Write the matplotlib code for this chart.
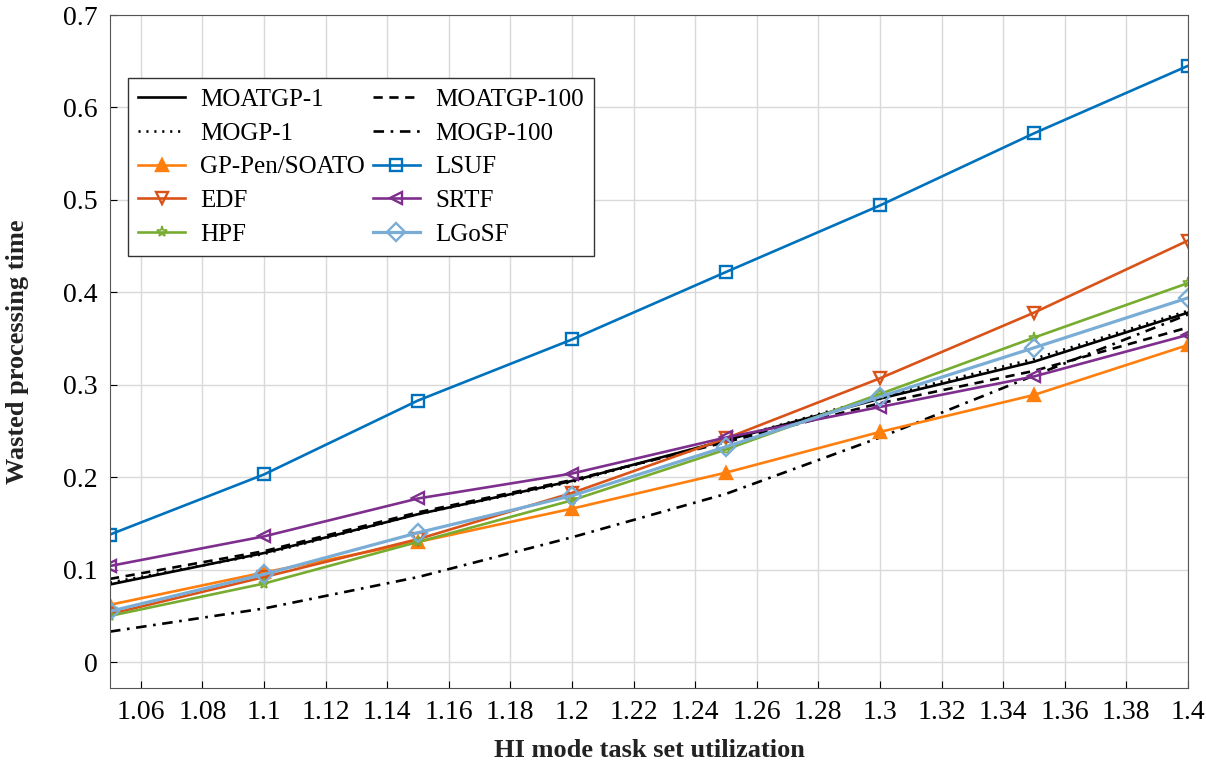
import matplotlib
matplotlib.use("Agg")
import matplotlib.pyplot as plt
import numpy as np

plt.rcParams['font.family'] = ['Liberation Serif', 'DejaVu Serif']
plt.rcParams['mathtext.fontset'] = 'stix'

util = [1.05, 1.10, 1.15, 1.20, 1.25, 1.30, 1.35, 1.40]

moatgp1 = [0.084, 0.118, 0.160, 0.196, 0.240, 0.285, 0.325, 0.378]
moatgp100 = [0.090, 0.120, 0.162, 0.197, 0.238, 0.280, 0.315, 0.362]
mogp1 = [0.086, 0.117, 0.160, 0.195, 0.240, 0.287, 0.328, 0.380]
mogp100 = [0.033, 0.058, 0.092, 0.135, 0.182, 0.243, 0.310, 0.376]
gppen = [0.062, 0.097, 0.130, 0.166, 0.205, 0.249, 0.289, 0.343]
lsuf = [0.138, 0.203, 0.283, 0.349, 0.422, 0.494, 0.572, 0.645]
edf = [0.052, 0.092, 0.133, 0.183, 0.242, 0.307, 0.378, 0.456]
srtf = [0.104, 0.136, 0.177, 0.204, 0.243, 0.276, 0.309, 0.354]
hpf = [0.050, 0.085, 0.130, 0.175, 0.230, 0.290, 0.351, 0.410]
lgosf = [0.055, 0.095, 0.140, 0.180, 0.233, 0.287, 0.340, 0.394]

xticks = [1.06, 1.08, 1.1, 1.12, 1.14, 1.16, 1.18, 1.2, 1.22, 1.24,
          1.26, 1.28, 1.3, 1.32, 1.34, 1.36, 1.38, 1.4]
xticklabels = ['1.06', '1.08', '1.1', '1.12', '1.14', '1.16', '1.18', '1.2', '1.22',
               '1.24', '1.26', '1.28', '1.3', '1.32', '1.34', '1.36', '1.38', '1.4']
yticks = [0, 0.1, 0.2, 0.3, 0.4, 0.5, 0.6, 0.7]
yticklabels = ['0', '0.1', '0.2', '0.3', '0.4', '0.5', '0.6', '0.7']

fig = plt.figure(figsize=(12.06, 7.63), dpi=100)
ax = fig.add_axes([0.0912, 0.0983, 0.8938, 0.8820])

lw = 1.9
ms = 9
mew = 1.7

h = {}
h['MOATGP-1'], = ax.plot(util, moatgp1, color='black', lw=lw, ls='-', label='MOATGP-1')
h['MOATGP-100'], = ax.plot(util, moatgp100, color='black', lw=lw, ls=(0, (3.5, 2.5)),
                           label='MOATGP-100')
h['MOGP-1'], = ax.plot(util, mogp1, color='black', lw=lw, ls=(0, (0.8, 2.2)), label='MOGP-1')
h['MOGP-100'], = ax.plot(util, mogp100, color='black', lw=lw, ls=(0, (4, 2.5, 1, 2.5)),
                         label='MOGP-100')
h['GP-Pen/SOATO'], = ax.plot(util, gppen, color='#FF7F0E', lw=lw, marker='^', ms=ms, mew=mew,
                             label='GP-Pen/SOATO')
h['LSUF'], = ax.plot(util, lsuf, color='#0072BD', lw=lw, marker='s', ms=ms, mew=mew,
                     mfc='none', label='LSUF')
h['EDF'], = ax.plot(util, edf, color='#D95319', lw=lw, marker='v', ms=ms, mew=mew,
                    mfc='none', label='EDF')
h['SRTF'], = ax.plot(util, srtf, color='#7E2F8E', lw=lw, marker='<', ms=ms, mew=mew,
                     mfc='none', label='SRTF')
h['HPF'], = ax.plot(util, hpf, color='#77AC30', lw=lw, marker='*', ms=8, mew=1.2,
                    mfc='none', label='HPF')
h['LGoSF'], = ax.plot(util, lgosf, color='#7AADD6', lw=2.3, marker='D', ms=ms, mew=mew,
                      mfc='none', label='LGoSF')

ax.set_xlim(1.05, 1.4)
ax.set_ylim(-0.028, 0.7)
ax.set_xticks(xticks)
ax.set_xticklabels(xticklabels)
ax.set_yticks(yticks)
ax.set_yticklabels(yticklabels)
ax.tick_params(direction='in', labelsize=20, length=5, pad=9)
ax.grid(True, color='#d9d9d9', lw=1)
ax.set_axisbelow(True)
for s in ax.spines.values():
    s.set_color('#555555')

ax.set_xlabel('HI mode task set utilization', fontsize=19, fontweight='bold',
              color='#222222', labelpad=10)
ax.set_ylabel('Wasted processing time', fontsize=19, fontweight='bold', color='#222222')
ax.yaxis.set_label_coords(-0.075, 0.5)

# legend is row-major in the reference, matplotlib fills columns first
order = ['MOATGP-1', 'MOGP-1', 'GP-Pen/SOATO', 'EDF', 'HPF',
         'MOATGP-100', 'MOGP-100', 'LSUF', 'SRTF', 'LGoSF']
leg = ax.legend([h[k] for k in order], order, ncol=2, loc='upper left',
                bbox_to_anchor=(0.0167, 0.906),
                fontsize=18, fancybox=False, edgecolor='#333333', framealpha=1,
                borderaxespad=0, handlelength=1.9, columnspacing=0.3,
                labelspacing=0.45, handletextpad=0.6, borderpad=0.4)
leg.get_frame().set_linewidth(1.0)

fig.savefig('out.png', dpi=100)
